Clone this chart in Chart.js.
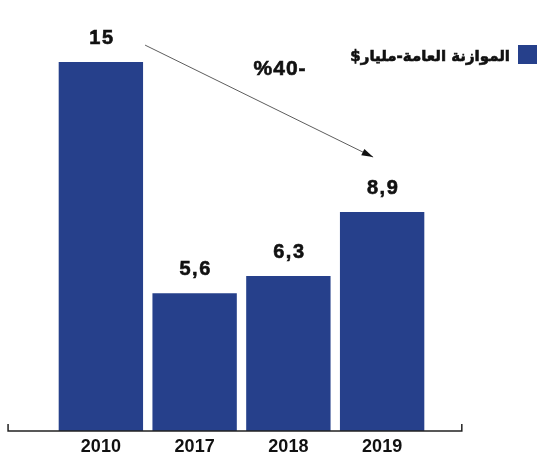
<!DOCTYPE html>
<html>
<head>
<meta charset="utf-8">
<script src="https://cdn.jsdelivr.net/npm/chart.js@4/dist/chart.umd.min.js"></script>
<style>
  html, body { margin: 0; padding: 0; background: #fff; }
  #wrap { width: 538px; height: 455px; }
</style>
</head>
<body>
<div id="wrap"><canvas id="budgetChart"></canvas></div>
<script>
// data
const years = ['2010', '2017', '2018', '2019'];
const budget = [15, 5.6, 6.3, 8.9];
const seriesLabel = 'الموازنة العامة-مليار$';
const changeLabel = '%40-';

const barColor = '#26408B';
const numFont = '"Liberation Sans", Arial, sans-serif';

// value labels above bars, with comma decimals
const valueLabels = {
    id: 'valueLabels',
    afterDatasetsDraw(chart) {
        const ctx = chart.ctx;
        const meta = chart.getDatasetMeta(0);
        ctx.save();
        ctx.fillStyle = '#111';
        ctx.strokeStyle = '#111';
        ctx.lineWidth = 0.6;
        ctx.font = 'bold 20px ' + numFont;
        ctx.letterSpacing = '1.5px';
        ctx.textAlign = 'center';
        ctx.textBaseline = 'alphabetic';
        meta.data.forEach((bar, i) => {
            const txt = String(budget[i]).replace('.', ',');
            ctx.fillText(txt, bar.x + 1, bar.y - 18);
            ctx.strokeText(txt, bar.x + 1, bar.y - 18);
        });
        ctx.restore();
    }
};

// baseline with end ticks, arrow, percent label and legend
const decorations = {
    id: 'decorations',
    afterDraw(chart) {
        const ctx = chart.ctx;
        const area = chart.chartArea;
        const meta = chart.getDatasetMeta(0);
        const step = meta.data[1].x - meta.data[0].x;

        // axis line
        const x0 = area.left - step * 0.49;
        const x1 = area.right + step * 0.35;
        const y = area.bottom;
        ctx.save();
        ctx.strokeStyle = '#222';
        ctx.lineWidth = 1.5;
        ctx.beginPath();
        ctx.moveTo(x0, y - 7);
        ctx.lineTo(x0, y);
        ctx.lineTo(x1, y);
        ctx.lineTo(x1, y - 7);
        ctx.stroke();

        // arrow from first bar towards last bar
        const b0 = meta.data[0], b3 = meta.data[3];
        const sx = b0.x + b0.width / 2 + 2, sy = b0.y - 17;
        const ex = b3.x - 9, ey = b3.y - 55;
        ctx.strokeStyle = '#333';
        ctx.lineWidth = 0.8;
        ctx.beginPath();
        ctx.moveTo(sx, sy);
        ctx.lineTo(ex, ey);
        ctx.stroke();
        const ang = Math.atan2(ey - sy, ex - sx);
        ctx.fillStyle = '#111';
        ctx.beginPath();
        ctx.moveTo(ex, ey);
        ctx.lineTo(ex - 12 * Math.cos(ang - 0.3), ey - 12 * Math.sin(ang - 0.3));
        ctx.lineTo(ex - 12 * Math.cos(ang + 0.3), ey - 12 * Math.sin(ang + 0.3));
        ctx.closePath();
        ctx.fill();

        // percent change
        ctx.font = 'bold 21px ' + numFont;
        ctx.letterSpacing = '1px';
        ctx.textAlign = 'center';
        ctx.textBaseline = 'alphabetic';
        ctx.direction = 'ltr';
        ctx.strokeStyle = '#111';
        ctx.lineWidth = 0.6;
        ctx.fillText(changeLabel, (sx + ex) / 2 + 21, sy + 30);
        ctx.strokeText(changeLabel, (sx + ex) / 2 + 21, sy + 30);

        // legend at top right
        ctx.letterSpacing = '0px';
        ctx.fillStyle = barColor;
        ctx.fillRect(518, 45, 19, 19);
        ctx.fillStyle = '#111';
        ctx.font = 'bold 15px "DejaVu Sans", sans-serif';
        ctx.direction = 'rtl';
        ctx.textAlign = 'right';
        ctx.fillText(seriesLabel, 510, 61);
        ctx.strokeText(seriesLabel, 510, 61);
        ctx.restore();
    }
};

const ctx = document.getElementById('budgetChart').getContext('2d');
const budgetChart = new Chart(ctx, {
    type: 'bar',
    data: {
        labels: years,
        datasets: [{
            label: seriesLabel,
            data: budget,
            backgroundColor: barColor,
            borderWidth: 0,
            barPercentage: 0.9,
            categoryPercentage: 1.0
        }]
    },
    options: {
        responsive: true,
        maintainAspectRatio: false,
        animation: false,
        layout: {
            padding: { left: 54, right: 109, top: 37.5, bottom: -8 }
        },
        plugins: {
            legend: { display: false },
            tooltip: { enabled: false }
        },
        scales: {
            x: {
                grid: { display: false, drawTicks: false },
                border: { display: false },
                ticks: {
                    color: '#111',
                    padding: 7,
                    font: { family: numFont, size: 18, weight: 'bold', lineHeight: 1 }
                }
            },
            y: {
                display: false,
                min: 0,
                max: 16
            }
        }
    },
    plugins: [valueLabels, decorations]
});
</script>
</body>
</html>
